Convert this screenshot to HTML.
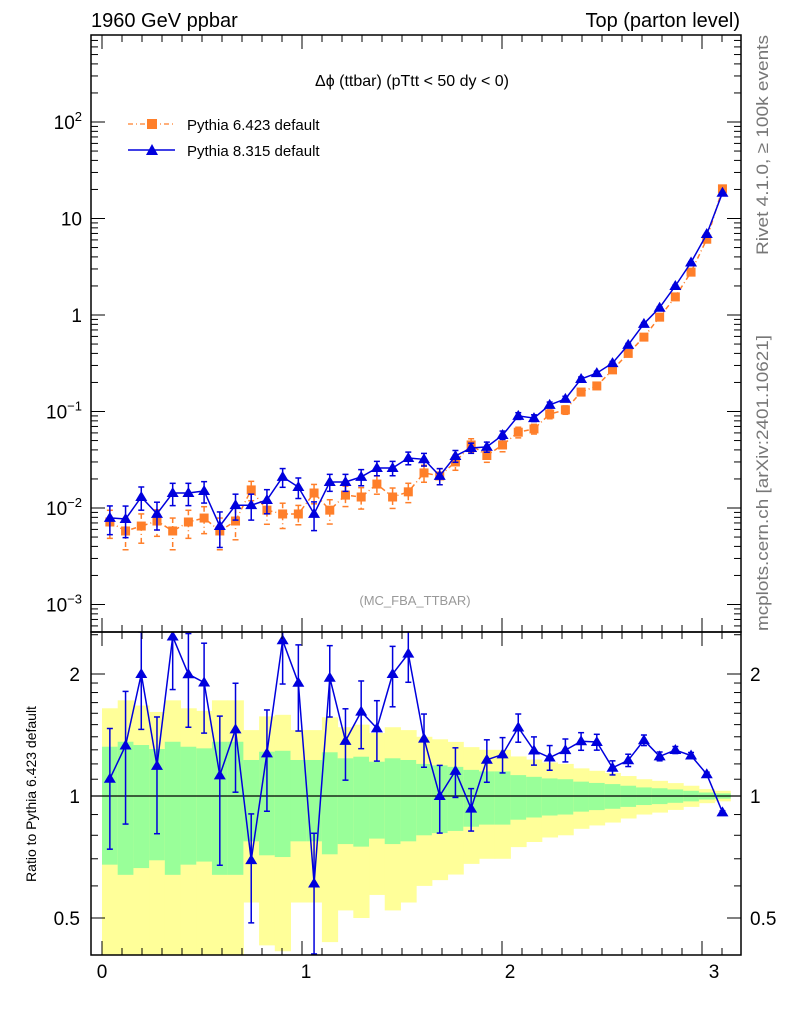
<!DOCTYPE html>
<html><head><meta charset="utf-8"><style>
body{margin:0;background:#fff;}
svg{display:block;font-family:"Liberation Sans",sans-serif;}
</style></head><body>
<svg id="c" width="786" height="1024" viewBox="0 0 786 1024" xmlns="http://www.w3.org/2000/svg">
<text x="91" y="27" font-size="20">1960 GeV ppbar</text>
<text x="740" y="27" font-size="20" text-anchor="end">Top (parton level)</text>
<text x="412" y="86" font-size="16" text-anchor="middle">Δϕ (ttbar) (pTtt &lt; 50 dy &lt; 0)</text>
<text x="415" y="605" font-size="13" fill="#999" text-anchor="middle">(MC_FBA_TTBAR)</text>
<text transform="translate(768,255) rotate(-90)" font-size="17" fill="#777" textLength="220" lengthAdjust="spacingAndGlyphs">Rivet 4.1.0, ≥ 100k events</text>
<text transform="translate(768,631) rotate(-90)" font-size="17" fill="#777" textLength="296" lengthAdjust="spacingAndGlyphs">mcplots.cern.ch [arXiv:2401.10621]</text>
<text transform="translate(36,794) rotate(-90)" font-size="14" text-anchor="middle">Ratio to Pythia 6.423 default</text>
<g>
<g>
<line x1="128" y1="124" x2="175" y2="124" stroke="#ff7f2a" stroke-width="1.3" stroke-dasharray="5,3,1,3"/>
<rect x="147" y="119" width="10" height="10" fill="#ff7f2a"/>
<text x="187" y="130" font-size="15">Pythia 6.423 default</text></g>
<g>
<line x1="128" y1="150" x2="175" y2="150" stroke="#0000dd" stroke-width="1.5"/>
<path d="M152,144 L158,155 L146,155Z" fill="#0000dd"/>
<text x="187" y="156" font-size="15">Pythia 8.315 default</text></g>
</g>
<g id="bands"></g>
<g id="marks"></g>
<g id="axes"></g>
</svg>
<script>
const p6 = [0.00716,0.00578,0.0065,0.00733,0.00578,0.00716,0.00787,0.00578,0.00733,0.0154,0.0095,0.00867,0.00867,0.0143,0.0095,0.0136,0.013,0.0177,0.013,0.0147,0.0231,0.0215,0.030,0.045,0.035,0.045,0.061,0.066,0.094,0.104,0.159,0.184,0.27,0.40,0.59,0.95,1.54,2.78,6.1,20.3];
const p8 = [0.0079,0.0077,0.0130,0.0087,0.0143,0.0143,0.015,0.0065,0.0107,0.0107,0.0121,0.021,0.0165,0.0087,0.0186,0.0186,0.021,0.026,0.026,0.033,0.032,0.0215,0.0346,0.0419,0.043,0.057,0.090,0.0855,0.117,0.135,0.217,0.25,0.317,0.49,0.81,1.19,2.0,3.5,6.9,18.5];
const p6RelErr = [0.323,0.361,0.336,0.306,0.361,0.323,0.311,0.361,0.361,0.227,0.286,0.293,0.227,0.227,0.282,0.239,0.25,0.215,0.239,0.227,0.2,0.19,0.18,0.16,0.15,0.15,0.126,0.115,0.105,0.10,0.085,0.077,0.07,0.06,0.05,0.045,0.038,0.03,0.02,0.015];
const p8RelErr = [0.33,0.36,0.27,0.32,0.26,0.26,0.25,0.4,0.3,0.3,0.28,0.22,0.24,0.33,0.2,0.2,0.19,0.17,0.17,0.15,0.15,0.19,0.14,0.12,0.12,0.1,0.08,0.08,0.07,0.065,0.05,0.045,0.04,0.035,0.03,0.025,0.02,0.017,0.012,0.008];
const nBins = 40, xMax = Math.PI;
const mainTicks = [-3,-2,-1,0,1,2];
const mainTickLabels = ["10<tspan dy='-8' font-size='13'>−3</tspan>","10<tspan dy='-8' font-size='13'>−2</tspan>","10<tspan dy='-8' font-size='13'>−1</tspan>","1","10","10<tspan dy='-8' font-size='13'>2</tspan>"];
const ratioTicks = [0.5,1,2];
const ratioTickLabels = ["0.5","1","2"];
const xTicks = [0,1,2,3];
const xTickLabels = ["0","1","2","3"];

const L=91,R=741,T=35,MB=632,RB=955;
const X=v=>102+200*v;
const Ylog=v=>508-96.5*(Math.log10(v)+2);
const Yr=r=>796-122*Math.log2(r);
const NS="http://www.w3.org/2000/svg";
function mk(tag,attrs,parent){const e=document.createElementNS(NS,tag);for(const k in attrs)e.setAttribute(k,attrs[k]);parent.appendChild(e);return e;}
const svg=document.getElementById('c'),bands=document.getElementById('bands'),marks=document.getElementById('marks'),axes=document.getElementById('axes');
const w=xMax/nBins;
const clipR=mk('clipPath',{id:'cr'},svg);mk('rect',{x:L,y:MB,width:R-L,height:RB-MB},clipR);
const clipM=mk('clipPath',{id:'cm'},svg);mk('rect',{x:L,y:T,width:R-L,height:MB-T},clipM);
bands.setAttribute('clip-path','url(#cr)');
for(let i=0;i<nBins;i++){
  const x0=X(i*w),x1=X((i+1)*w),s=p6RelErr[i];
  const yb=mk('rect',{x:x0,y:Yr(1+2*s),width:x1-x0+0.5,height:Yr(Math.max(1-2*s,0.3))-Yr(1+2*s),fill:'#ffff99'},bands);
  
  
  const gb=mk('rect',{x:x0,y:Yr(1+s),width:x1-x0+0.5,height:Yr(1-s)-Yr(1+s),fill:'#99ff99'},bands);
  
  
}
mk('line',{x1:L,y1:Yr(1),x2:R,y2:Yr(1),stroke:'#000','stroke-width':1.2},bands);
const gm=mk('g',{'clip-path':'url(#cm)'},marks);


const cx=i=>X((i+0.5)*w);
function drawSeries(g,vals,errs,color,dash,marker,yf,name){
  let d='';vals.forEach((v,i)=>{d+=(i?'L':'M')+cx(i).toFixed(1)+','+yf(v).toFixed(1);});
  const ln=mk('path',{d:d,fill:'none',stroke:color,'stroke-width':1.5,'stroke-dasharray':dash},g);
  
  
  vals.forEach((v,i)=>{
    const x=cx(i),y1=yf(v*(1+errs[i])),y2=yf(Math.max(v*(1-errs[i]),1e-9));
    mk('line',{x1:x,y1:y1,x2:x,y2:y2,stroke:color,'stroke-width':1.5,'stroke-dasharray':dash},g);
    mk('line',{x1:x-3,y1:y1,x2:x+3,y2:y1,stroke:color,'stroke-width':1.5},g);
    mk('line',{x1:x-3,y1:y2,x2:x+3,y2:y2,stroke:color,'stroke-width':1.5},g);
    const y=yf(v);let m;
    if(marker==='sq') m=mk('rect',{x:x-4.5,y:y-4.5,width:9,height:9,fill:color},g);
    else m=mk('path',{d:`M${x},${y-6} L${x+6},${y+4} L${x-6},${y+4}Z`,fill:color},g);
    
    
  });
}
drawSeries(gm,p6,p6RelErr,'#ff7f2a','5,3,1,3','sq',Ylog,'pythia6');
drawSeries(gm,p8,p8RelErr,'#0000dd','none','tri',Ylog,'pythia8');
const gr=mk('g',{'clip-path':'url(#cr)'},marks);


const ratio=p8.map((v,i)=>v/p6[i]);
drawSeries(gr,ratio,p8RelErr,'#0000dd','none','tri',Yr,'ratio');
mk('rect',{x:L,y:T,width:R-L,height:MB-T,fill:'none',stroke:'#000','stroke-width':1.5},axes);
mk('rect',{x:L,y:MB,width:R-L,height:RB-MB,fill:'none',stroke:'#000','stroke-width':1.5},axes);
function tick(x1,y1,x2,y2){mk('line',{x1,y1,x2,y2,stroke:'#000','stroke-width':1},axes);}
for(let e=-4;e<=3;e++){for(let k=1;k<10;k++){const v=k*Math.pow(10,e);const y=Ylog(v);if(y<T||y>MB)continue;const len=k===1?14:7;tick(L,y,L+len,y);tick(R,y,R-len,y);}}
mainTicks.forEach((e,i)=>{const t=mk('text',{x:82,y:Ylog(Math.pow(10,e))+7,'font-size':19,'text-anchor':'end'},axes);t.innerHTML=mainTickLabels[i];

});
[0.4,0.5,0.6,0.7,0.8,0.9,1,1.1,1.2,1.3,1.4,1.5,1.6,1.7,1.8,1.9,2,2.5].forEach(r=>{const y=Yr(r);if(y<MB||y>RB)return;const len=(r===0.5||r===1||r===2)?14:7;tick(L,y,L+len,y);tick(R,y,R-len,y);});
ratioTicks.forEach((r,i)=>{
  const t=mk('text',{x:80,y:Yr(r)+7,'font-size':19,'text-anchor':'end'},axes);t.textContent=ratioTickLabels[i];
  
  
  const t2=mk('text',{x:750,y:Yr(r)+7,'font-size':19},axes);t2.textContent=ratioTickLabels[i];
  
  
});
for(let k=0;k<=31;k++){const x=X(k/10);if(x>R)break;const len=k%10===0?14:7;tick(x,T,x,T+len);tick(x,MB,x,MB-len);tick(x,MB,x,MB+len);tick(x,RB,x,RB-len);}
xTicks.forEach((v,i)=>{const t=mk('text',{x:102+204*v,y:978,'font-size':19,'text-anchor':'middle'},axes);t.textContent=xTickLabels[i];

});
</script>
</body></html>
